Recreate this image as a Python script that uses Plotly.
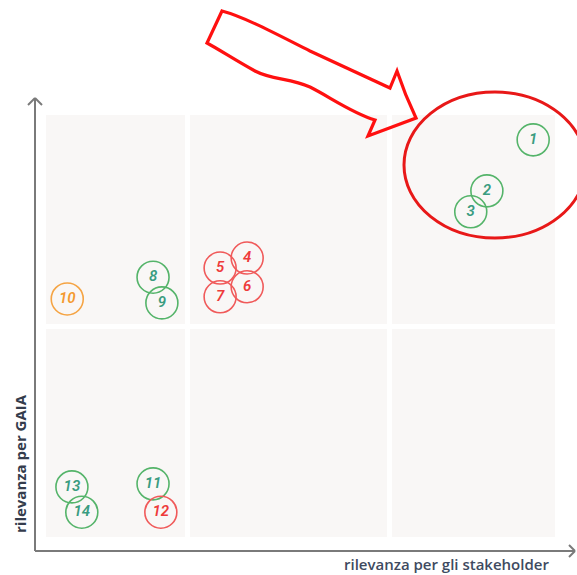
import plotly.graph_objects as go

# ---------------- data ----------------
ids = ["1", "2", "3", "4", "5", "6", "7", "8", "9", "10", "11", "12", "13", "14"]
rel_stakeholder = [9.58, 8.69, 8.38, 4.08, 3.56, 4.08, 3.56, 2.27, 2.44, 0.62, 2.27, 2.42, 0.71, 0.90]
rel_gaia = [9.43, 8.26, 7.78, 6.72, 6.49, 6.06, 5.83, 6.28, 5.69, 5.78, 1.54, 0.89, 1.47, 0.89]
group = ["g", "g", "g", "r", "r", "r", "r", "g", "g", "o", "g", "r", "g", "g"]

x_title = "rilevanza per gli stakeholder"
y_title = "rilevanza per GAIA"

# ---------------- styles ----------------
W, H = 577, 575
X0PX, XUNIT = 35, 52.0     # pixel of x=0, pixels per unit
Y0PX, YUNIT = 551, 43.6    # pixel of y=0, pixels per unit

styles = {
    "g": dict(line="#55b46a", text="#3a9c80"),
    "r": dict(line="#f05a5a", text="#ee3b3b"),
    "o": dict(line="#f5a444", text="#f49a30"),
}


def px(x, y):
    return x / W, 1 - y / H


fig = go.Figure()

for g in ["g", "r", "o"]:
    xs = [x for x, gg in zip(rel_stakeholder, group) if gg == g]
    ys = [y for y, gg in zip(rel_gaia, group) if gg == g]
    ts = [t for t, gg in zip(ids, group) if gg == g]
    fig.add_trace(go.Scatter(
        x=xs, y=ys, text=ts, mode="markers+text",
        textposition="middle center",
        marker=dict(size=32, color="rgba(0,0,0,0)",
                    line=dict(color=styles[g]["line"], width=1.6)),
        textfont=dict(family="Liberation Sans Narrow, Roboto, sans-serif",
                      size=15, color=styles[g]["text"], style="italic", weight=600),
        hoverinfo="skip", showlegend=False,
    ))

shapes = []
# panels
cols = [(46, 185), (190, 387), (392, 555)]
rows = [(115, 324), (329, 537)]
for (cx0, cx1) in cols:
    for (ry0, ry1) in rows:
        a = px(cx0, ry1)
        b = px(cx1, ry0)
        shapes.append(dict(type="rect", xref="paper", yref="paper",
                           x0=a[0], y0=a[1], x1=b[0], y1=b[1],
                           fillcolor="#f9f7f6", line=dict(width=0), layer="below"))

# axes with open arrowheads
axc = "#7a7a7a"


def seg(p, q, color=axc, width=2):
    a, b = px(*p), px(*q)
    return dict(type="line", xref="paper", yref="paper", x0=a[0], y0=a[1],
                x1=b[0], y1=b[1], line=dict(color=color, width=width))


shapes += [
    seg((35, 551), (35, 98)),
    seg((28, 105), (35, 98)), seg((42, 105), (35, 98)),
    seg((35, 551), (575, 551)),
    seg((569, 545), (575, 551)), seg((569, 557), (575, 551)),
]

# big red ellipse
e0 = px(404, 238)
e1 = px(586, 92)
shapes.append(dict(type="circle", xref="paper", yref="paper",
                   x0=e0[0], y0=e0[1], x1=e1[0], y1=e1[1],
                   line=dict(color="#e81818", width=3)))


# red wavy block arrow
def P(x, y):
    a = px(x, y)
    return f"{a[0]:.5f},{a[1]:.5f}"


path = (
    f"M {P(222, 11)} "
    f"C {P(245, 17)} {P(280, 36)} {P(310, 51)} "
    f"L {P(390, 88)} "
    f"L {P(397, 71)} "
    f"Q {P(405, 95)} {P(416, 118)} "
    f"L {P(368, 136)} "
    f"L {P(375, 120)} "
    f"C {P(352, 113)} {P(330, 97)} {P(310, 87)} "
    f"C {P(290, 78)} {P(272, 80)} {P(255, 71)} "
    f"C {P(235, 60)} {P(220, 50)} {P(207, 43)} "
    f"Z"
)
shapes.append(dict(type="path", xref="paper", yref="paper", path=path,
                   line=dict(color="#ff1010", width=3.2), fillcolor="rgba(0,0,0,0)"))

annotations = [
    dict(text=x_title, xref="paper", yref="paper", x=446 / W, y=1 - 564 / H,
         showarrow=False, xanchor="center", yanchor="middle",
         font=dict(family="Open Sans, sans-serif", size=15, color="#3e4a60", weight=600)),
    dict(text=y_title, xref="paper", yref="paper", x=20 / W, y=1 - 464 / H,
         showarrow=False, xanchor="center", yanchor="middle", textangle=-90,
         font=dict(family="Open Sans, sans-serif", size=15, color="#343c4c", weight="bold")),
]

fig.update_layout(
    width=W, height=H, margin=dict(l=0, r=0, t=0, b=0),
    paper_bgcolor="white", plot_bgcolor="rgba(0,0,0,0)",
    xaxis=dict(range=[(0 - X0PX) / XUNIT, (W - X0PX) / XUNIT], visible=False, fixedrange=True),
    yaxis=dict(range=[(Y0PX - H) / YUNIT, Y0PX / YUNIT], visible=False, fixedrange=True),
    shapes=shapes, annotations=annotations,
)

fig.write_html("out.html", config={"displayModeBar": False},
               post_script="document.body.style.margin='0';")
